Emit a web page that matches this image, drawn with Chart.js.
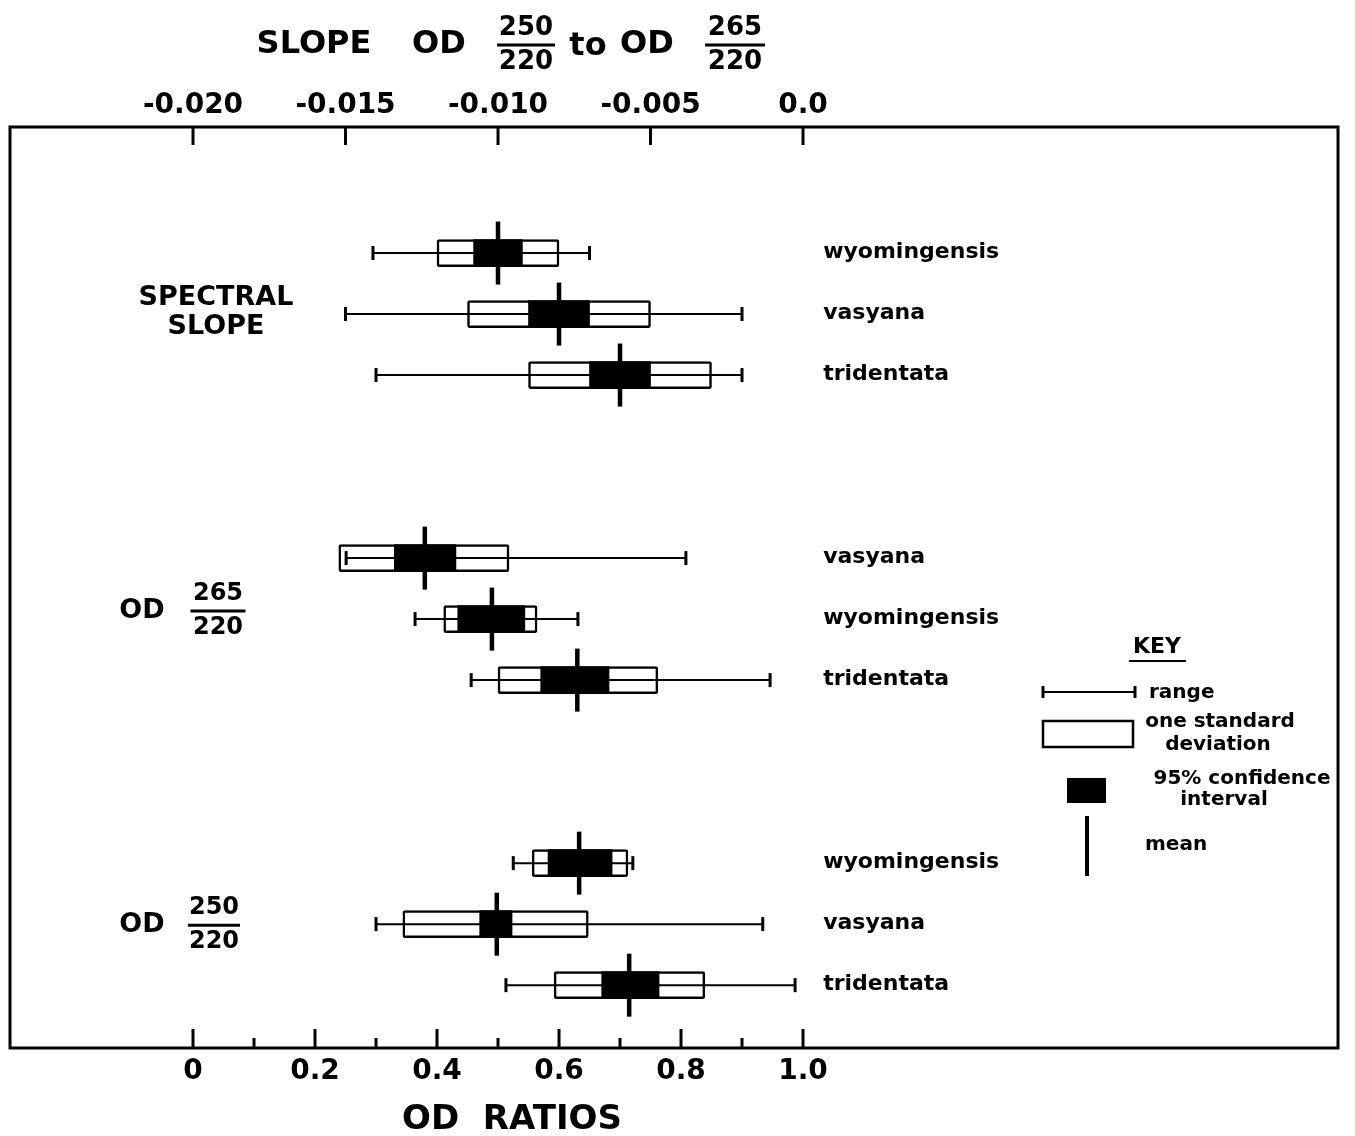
<!DOCTYPE html>
<html>
<head>
<meta charset="utf-8">
<title>OD ratios</title>
<script src="https://cdn.jsdelivr.net/npm/chart.js@4.4.0/dist/chart.umd.min.js"></script>
<style>
  html, body { margin: 0; padding: 0; background: #fff; }
  canvas { display: block; }
</style>
</head>
<body>
<canvas id="chart" width="1355" height="1136"></canvas>
<script>
// spectral slope group (top axis, slope units)
const slopeTaxa = ['wyomingensis', 'vasyana', 'tridentata']
const slopeRangeLo = [-0.0141, -0.0150, -0.0140]
const slopeRangeHi = [-0.0070, -0.0020, -0.0020]
const slopeSdLo = [-0.0120, -0.0110, -0.0090]
const slopeSdHi = [-0.0080, -0.0050, -0.0030]
const slopeCiLo = [-0.0108, -0.0090, -0.0070]
const slopeCiHi = [-0.0092, -0.0070, -0.0050]
const slopeMean = [-0.0100, -0.0080, -0.0060]

// OD 265/220 group (bottom axis)
const od265Taxa = ['vasyana', 'wyomingensis', 'tridentata']
const od265RangeLo = [0.251, 0.364, 0.456]
const od265RangeHi = [0.808, 0.631, 0.946]
const od265SdLo = [0.239, 0.411, 0.500]
const od265SdHi = [0.518, 0.564, 0.762]
const od265CiLo = [0.330, 0.434, 0.570]
const od265CiHi = [0.431, 0.544, 0.682]
const od265Mean = [0.380, 0.490, 0.630]

// OD 250/220 group (bottom axis)
const od250Taxa = ['wyomingensis', 'vasyana', 'tridentata']
const od250RangeLo = [0.525, 0.300, 0.513]
const od250RangeHi = [0.721, 0.934, 0.987]
const od250SdLo = [0.556, 0.344, 0.592]
const od250SdHi = [0.713, 0.648, 0.839]
const od250CiLo = [0.582, 0.470, 0.670]
const od250CiHi = [0.687, 0.523, 0.764]
const od250Mean = [0.633, 0.498, 0.715]

// tick labels
const odTickValues = [0, 0.1, 0.2, 0.3, 0.4, 0.5, 0.6, 0.7, 0.8, 0.9, 1.0]
const odTickLabels = ['0', '', '0.2', '', '0.4', '', '0.6', '', '0.8', '', '1.0']
const slopeTickValues = [-0.020, -0.015, -0.010, -0.005, 0.0]
const slopeTickLabels = ['-0.020', '-0.015', '-0.010', '-0.005', '0.0']

const FONT = '"DejaVu Sans", sans-serif'
const X_MIN = -0.3
const X_MAX = 1.877
// the two axes share one pixel scale: -0.020 sits on 0, 0.0 sits on 1.0
const toSlope = v => -0.02 + 0.02 * v

// build the four layers of one group of box marks
function groupDatasets(start, axisID, rLo, rHi, sLo, sHi, cLo, cHi, mean) {
    const rows = mean.map((m, i) => start + i)
    const rangeData = []
    rows.forEach((y, i) => {
        rangeData.push({x: rLo[i], y: y}, {x: rHi[i], y: y}, {x: null, y: null})
    })
    return [
        {
            type: 'bar', xAxisID: axisID, order: 4,
            data: rows.map((y, i) => ({x: [sLo[i], sHi[i]], y: y})),
            backgroundColor: '#fff', borderColor: '#000', borderWidth: 2.5,
            borderSkipped: false, borderRadius: 2, grouped: false, maxBarThickness: 27,
            barPercentage: 1, categoryPercentage: 1
        },
        {
            type: 'line', xAxisID: axisID, order: 3,
            data: rangeData, spanGaps: false,
            borderColor: '#000', borderWidth: 2,
            pointStyle: 'line', pointRotation: 90, pointRadius: 7,
            pointBorderWidth: 3, pointBorderColor: '#000', pointHitRadius: 0
        },
        {
            type: 'bar', xAxisID: axisID, order: 2,
            data: rows.map((y, i) => ({x: [cLo[i], cHi[i]], y: y})),
            backgroundColor: '#000', borderColor: '#000', borderWidth: 0,
            borderSkipped: false, grouped: false, maxBarThickness: 27,
            barPercentage: 1, categoryPercentage: 1
        },
        {
            type: 'line', xAxisID: axisID, order: 1, showLine: false,
            data: rows.map((y, i) => ({x: mean[i], y: y})),
            pointStyle: 'line', pointRotation: 90, pointRadius: 31.5,
            pointBorderWidth: 4.5, pointBorderColor: '#000', pointHitRadius: 0
        }
    ]
}

function drawFrac(ctx, num, den, cx, cy, size, barW) {
    ctx.font = `bold ${size}px ${FONT}`
    ctx.textAlign = 'center'
    ctx.textBaseline = 'middle'
    ctx.fillText(num, cx, cy - 17)
    ctx.fillText(den, cx, cy + 17)
    ctx.lineWidth = 3
    ctx.beginPath()
    ctx.moveTo(cx - barW / 2, cy)
    ctx.lineTo(cx + barW / 2, cy)
    ctx.stroke()
}

function text(ctx, str, x, y, font, align) {
    ctx.font = font
    ctx.textAlign = align || 'left'
    ctx.textBaseline = 'middle'
    ctx.fillText(str, x, y)
}

// frame, inward ticks, titles, row labels and the key
const decor = {
    id: 'decor',
    afterDraw(chart) {
        const ctx = chart.ctx
        const area = chart.chartArea
        const xs = chart.scales.x
        const x2 = chart.scales.x2
        const ys = chart.scales.y
        ctx.save()
        ctx.strokeStyle = '#000'
        ctx.fillStyle = '#000'
        ctx.lineCap = 'butt'

        ctx.lineWidth = 3
        ctx.strokeRect(area.left, area.top, area.right - area.left, area.bottom - area.top)

        ctx.lineWidth = 3
        x2.ticks.forEach(t => {
            const px = x2.getPixelForValue(t.value)
            ctx.beginPath()
            ctx.moveTo(px, area.top)
            ctx.lineTo(px, area.top + 18)
            ctx.stroke()
        })
        xs.ticks.forEach((t, i) => {
            const px = xs.getPixelForValue(t.value)
            ctx.beginPath()
            ctx.moveTo(px, area.bottom)
            ctx.lineTo(px, area.bottom - (i % 2 === 0 ? 19 : 10))
            ctx.stroke()
        })

        // top title
        const big = `bold 32px ${FONT}`
        text(ctx, 'SLOPE', 314, 45, big, 'center')
        text(ctx, 'OD', 439, 45, big, 'center')
        drawFrac(ctx, '250', '220', 526, 45, 26, 58)
        text(ctx, 'to', 588, 47, big, 'center')
        text(ctx, 'OD', 647, 45, big, 'center')
        drawFrac(ctx, '265', '220', 735, 45, 26, 60)

        // bottom title
        text(ctx, 'OD  RATIOS', 512, 1120, `bold 34px ${FONT}`, 'center')

        // row labels on the right
        const labelX = xs.getPixelForValue(1.033)
        const small = `bold 22px ${FONT}`
        const groups = [[slopeTaxa, 0], [od265Taxa, 5], [od250Taxa, 10]]
        groups.forEach(([taxa, start]) => {
            taxa.forEach((t, i) => text(ctx, t, labelX, ys.getPixelForValue(start + i) - 1, small))
        })

        // group labels on the left
        const mid = `bold 27px ${FONT}`
        const y1 = ys.getPixelForValue(1)
        text(ctx, 'SPECTRAL', 216, y1 - 16, mid, 'center')
        text(ctx, 'SLOPE', 216, y1 + 13, mid, 'center')
        const y6 = ys.getPixelForValue(6) - 8
        text(ctx, 'OD', 142, y6, mid, 'center')
        drawFrac(ctx, '265', '220', 218, y6, 24, 55)
        const y11 = ys.getPixelForValue(11) + 1
        text(ctx, 'OD', 142, y11, mid, 'center')
        drawFrac(ctx, '250', '220', 214, y11, 24, 52)

        // key
        const keyFont = `bold 20px ${FONT}`
        text(ctx, 'KEY', 1157, 647, `bold 22px ${FONT}`, 'center')
        ctx.lineWidth = 2
        ctx.beginPath()
        ctx.moveTo(1129, 661)
        ctx.lineTo(1186, 661)
        ctx.stroke()

        ctx.lineWidth = 2
        ctx.beginPath()
        ctx.moveTo(1043, 692)
        ctx.lineTo(1135, 692)
        ctx.stroke()
        ctx.lineWidth = 3
        ctx.beginPath()
        ctx.moveTo(1043, 686)
        ctx.lineTo(1043, 698)
        ctx.moveTo(1135, 686)
        ctx.lineTo(1135, 698)
        ctx.stroke()
        text(ctx, 'range', 1149, 693, keyFont)

        ctx.lineWidth = 2.5
        ctx.strokeRect(1043, 721, 90, 26)
        text(ctx, 'one standard', 1220, 722, keyFont, 'center')
        text(ctx, 'deviation', 1218, 745, keyFont, 'center')

        ctx.fillRect(1067, 778, 39, 25)
        text(ctx, '95% confidence', 1242, 779, keyFont, 'center')
        text(ctx, 'interval', 1224, 800, keyFont, 'center')

        ctx.lineWidth = 4
        ctx.beginPath()
        ctx.moveTo(1087, 816)
        ctx.lineTo(1087, 876)
        ctx.stroke()
        text(ctx, 'mean', 1145, 845, keyFont)

        ctx.restore()
    }
}

const datasets = [].concat(
    groupDatasets(0, 'x2', slopeRangeLo, slopeRangeHi, slopeSdLo, slopeSdHi, slopeCiLo, slopeCiHi, slopeMean),
    groupDatasets(5, 'x', od265RangeLo, od265RangeHi, od265SdLo, od265SdHi, od265CiLo, od265CiHi, od265Mean),
    groupDatasets(10, 'x', od250RangeLo, od250RangeHi, od250SdLo, od250SdHi, od250CiLo, od250CiHi, od250Mean)
)

// fixed axis boxes so the frame lands where the original has it
function fixBox(height) {
    return s => {
        s.height = height
        s.paddingLeft = 0
        s.paddingRight = 0
    }
}

const myChart = new Chart(document.getElementById('chart'), {
    type: 'bar',
    data: {datasets: datasets},
    options: {
        indexAxis: 'y',
        responsive: false,
        animation: false,
        devicePixelRatio: 1,
        layout: {autoPadding: false, padding: {left: 10, right: 17, top: 0, bottom: 0}},
        plugins: {legend: {display: false}, tooltip: {enabled: false}},
        scales: {
            x: {
                type: 'linear', position: 'bottom', min: X_MIN, max: X_MAX, offset: false,
                grid: {display: false, drawTicks: false}, border: {display: false},
                afterBuildTicks: s => { s.ticks = odTickValues.map(v => ({value: v})) },
                afterFit: fixBox(88),
                ticks: {
                    autoSkip: false, maxRotation: 0, padding: 7, color: '#000',
                    font: {family: FONT, size: 28, weight: 'bold'},
                    callback: (v, i) => odTickLabels[i]
                }
            },
            x2: {
                type: 'linear', position: 'top', min: toSlope(X_MIN), max: toSlope(X_MAX), offset: false,
                grid: {display: false, drawTicks: false}, border: {display: false},
                afterBuildTicks: s => { s.ticks = slopeTickValues.map(v => ({value: v})) },
                afterFit: fixBox(127),
                ticks: {
                    autoSkip: false, maxRotation: 0, padding: 4, color: '#000',
                    font: {family: FONT, size: 28, weight: 'bold'},
                    callback: (v, i) => slopeTickLabels[i]
                }
            },
            y: {
                type: 'linear', reverse: true, min: -2.066, max: 13.03, offset: false,
                display: false, ticks: {stepSize: 5}
            }
        }
    },
    plugins: [decor]
})
</script>
</body>
</html>
